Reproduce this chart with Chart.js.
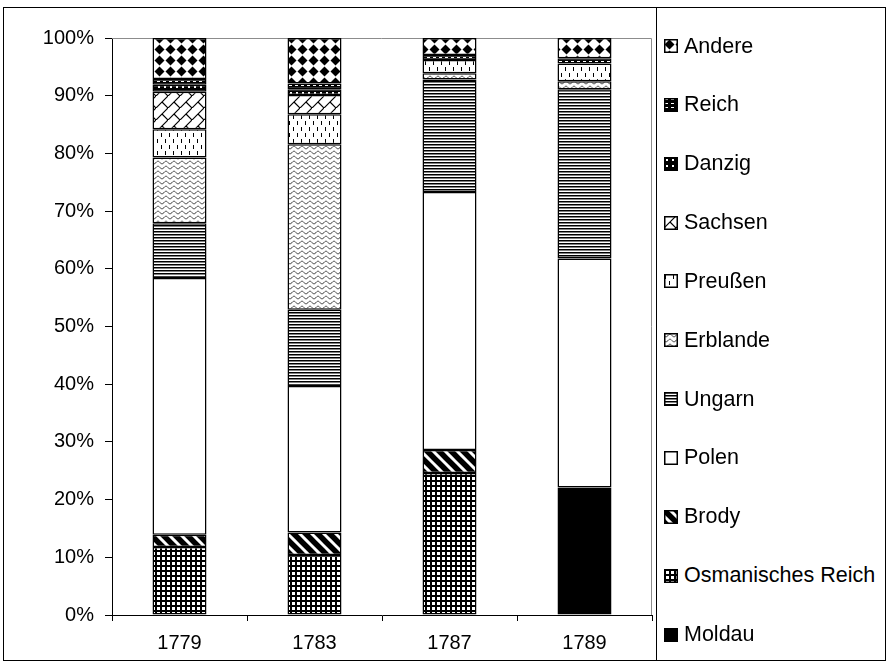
<!DOCTYPE html>
<html><head><meta charset="utf-8">
<script src="https://cdn.jsdelivr.net/npm/chart.js@4.4.1/dist/chart.umd.min.js"></script>
<style>
html,body{margin:0;padding:0;background:#fff;}
#wrap{position:relative;width:890px;height:664px;font-family:'Liberation Sans',Arial,sans-serif;}
#c{position:absolute;left:0;top:0;}
#frame{position:absolute;left:3px;top:7px;width:883px;height:654px;border:1px solid #000;box-sizing:border-box;pointer-events:none;}
#legend{position:absolute;left:656px;top:7px;width:230px;height:654px;border:1px solid #000;box-sizing:border-box;background:#fff;}
.item{position:absolute;left:7px;height:24px;display:flex;align-items:center;font-size:21.5px;color:#000;white-space:nowrap;}
.item canvas{margin-right:6px;display:block;}
</style></head><body>
<div id="wrap"><canvas id="c" width="890" height="664"></canvas><div id="frame"></div><div id="legend"></div></div>
<script>
// ---- data (percent shares) ----
const years = ['1779', '1783', '1787', '1789'];
const seriesNames = ['Moldau', 'Osmanisches Reich', 'Brody', 'Polen', 'Ungarn', 'Erblande', 'Preußen', 'Sachsen', 'Danzig', 'Reich', 'Andere'];
const moldau   = [0, 0, 0, 22.1];
const osman    = [11.8, 10.4, 24.6, 0];
const brody    = [2.1, 3.9, 4.0, 0];
const polen    = [44.5, 25.4, 44.7, 39.7];
const ungarn   = [9.5, 13.2, 19.5, 29.3];
const erblande = [11.4, 28.7, 1.1, 1.4];
const preussen = [4.9, 5.2, 2.3, 3.1];
const sachsen  = [6.5, 3.3, 0, 0];
const danzig   = [1.2, 1.0, 0, 0];
const reich    = [1.0, 1.0, 0.85, 0.9];
const andere   = [7.1, 7.9, 2.95, 3.5];
const yTickLabels = ['0%','10%','20%','30%','40%','50%','60%','70%','80%','90%','100%'];
const seriesValues = [moldau, osman, brody, polen, ungarn, erblande, preussen, sachsen, danzig, reich, andere];

// ---- pattern tiles ----
function mkTile(w, h, fn) {
  const c = document.createElement('canvas'); c.width = w; c.height = h;
  const g = c.getContext('2d'); g.fillStyle = '#fff'; g.fillRect(0, 0, w, h);
  fn(g, w, h); return c;
}
const tiles = [
  mkTile(4, 4, g => { g.fillStyle = '#000'; g.fillRect(0, 0, 4, 4); }),
  mkTile(5, 5, g => { g.fillStyle = '#000'; g.fillRect(0, 0, 5, 2); g.fillRect(0, 0, 2, 5); }),
  mkTile(12, 12, g => { g.strokeStyle = '#000'; g.lineWidth = 5.5; g.beginPath();
    for (const o of [-12, 0, 12]) { g.moveTo(o - 3, -3); g.lineTo(o + 15, 15); } g.stroke(); }),
  mkTile(4, 4, g => {}),
  mkTile(4, 3, g => { g.fillStyle = '#000'; g.fillRect(0, 0, 4, 1); g.fillStyle = '#808080'; g.fillRect(0, 1, 4, 1); }),
  mkTile(8, 5, g => { g.strokeStyle = '#333'; g.lineWidth = 1; g.beginPath();
    for (let x = 0; x <= 8; x += 0.5) { const y = 2.5 + 1.3 * Math.sin(2 * Math.PI * x / 8); if (x === 0) g.moveTo(x, y); else g.lineTo(x, y); } g.stroke(); }),
  mkTile(8, 12, g => { g.fillStyle = '#000'; g.fillRect(1, 1, 1, 4); g.fillRect(5, 7, 1, 4); }),
  mkTile(12, 12, g => { g.strokeStyle = '#000'; g.lineWidth = 1.2; g.beginPath();
    g.moveTo(-1, 13); g.lineTo(13, -1); g.moveTo(6, 6); g.lineTo(13, 13); g.stroke(); }),
  mkTile(6, 6, g => { g.fillStyle = '#000'; g.fillRect(0, 0, 6, 6); g.fillStyle = '#fff'; g.fillRect(2, 2, 2, 2); }),
  mkTile(6, 4, g => { g.fillStyle = '#000'; g.fillRect(0, 0, 6, 4); g.fillStyle = '#fff'; g.fillRect(1, 1, 3, 1); }),
  mkTile(11, 11, g => { g.fillStyle = '#000'; g.beginPath(); g.moveTo(5.5, 0.5); g.lineTo(10.5, 5.5); g.lineTo(5.5, 10.5); g.lineTo(0.5, 5.5); g.closePath(); g.fill(); })
];

const canvas = document.getElementById('c');
const ctx = canvas.getContext('2d');
const datasets = seriesNames.map((name, i) => ({
  label: name,
  data: seriesValues[i],
  backgroundColor: ctx.createPattern(tiles[i], 'repeat'),
  borderColor: '#000',
  borderWidth: 1.5,
  borderSkipped: false,
  barPercentage: 0.4,
  categoryPercentage: 1.0
}));

const plotFrame = {
  id: 'plotFrame',
  beforeDatasetsDraw(chart) {
    const { ctx, chartArea: a } = chart;
    ctx.save(); ctx.strokeStyle = '#8c8c8c'; ctx.lineWidth = 1; ctx.beginPath();
    ctx.moveTo(a.left, Math.floor(a.top) + 0.5); ctx.lineTo(Math.floor(a.right) - 0.5, Math.floor(a.top) + 0.5);
    ctx.lineTo(Math.floor(a.right) - 0.5, a.bottom); ctx.stroke(); ctx.restore();
  }
};

const font = { family: "'Liberation Sans', Arial, sans-serif", size: 20 };
new Chart(ctx, {
  type: 'bar',
  data: { labels: years, datasets },
  plugins: [plotFrame],
  options: {
    responsive: false, animation: false, devicePixelRatio: 1,
    layout: { padding: { top: 38, right: 238, left: 0, bottom: 0 } },
    plugins: { legend: { display: false }, tooltip: { enabled: false } },
    scales: {
      x: {
        stacked: true,
        grid: { offset: true, drawOnChartArea: false, tickLength: 6, color: '#000' },
        border: { color: '#000', width: 1 },
        ticks: { font, color: '#000', padding: 10 },
        afterFit: s => { s.height = 49; }
      },
      y: {
        stacked: true, min: 0, max: 100,
        grid: { drawOnChartArea: false, tickLength: 7, color: '#000' },
        border: { color: '#000', width: 1 },
        ticks: { stepSize: 10, font, color: '#000', padding: 11, callback: (v, i) => yTickLabels[i] },
        afterFit: s => { s.width = 112; }
      }
    }
  }
});

// ---- HTML legend (reverse order) ----
const legend = document.getElementById('legend');
const order = seriesNames.map((_, i) => i).reverse();
order.forEach((si, k) => {
  const item = document.createElement('div');
  item.className = 'item';
  item.style.top = (38 - 12 + k * 58.85) + 'px';
  const sw = document.createElement('canvas'); sw.width = 14; sw.height = 14;
  const sg = sw.getContext('2d');
  sg.fillStyle = sg.createPattern(tiles[si], 'repeat'); sg.fillRect(0, 0, 14, 14);
  sg.strokeStyle = '#000'; sg.lineWidth = 1.5; sg.strokeRect(0.75, 0.75, 12.5, 12.5);
  const t = document.createElement('span'); t.textContent = seriesNames[si];
  item.appendChild(sw); item.appendChild(t);
  legend.appendChild(item);
});
</script>
</body></html>
